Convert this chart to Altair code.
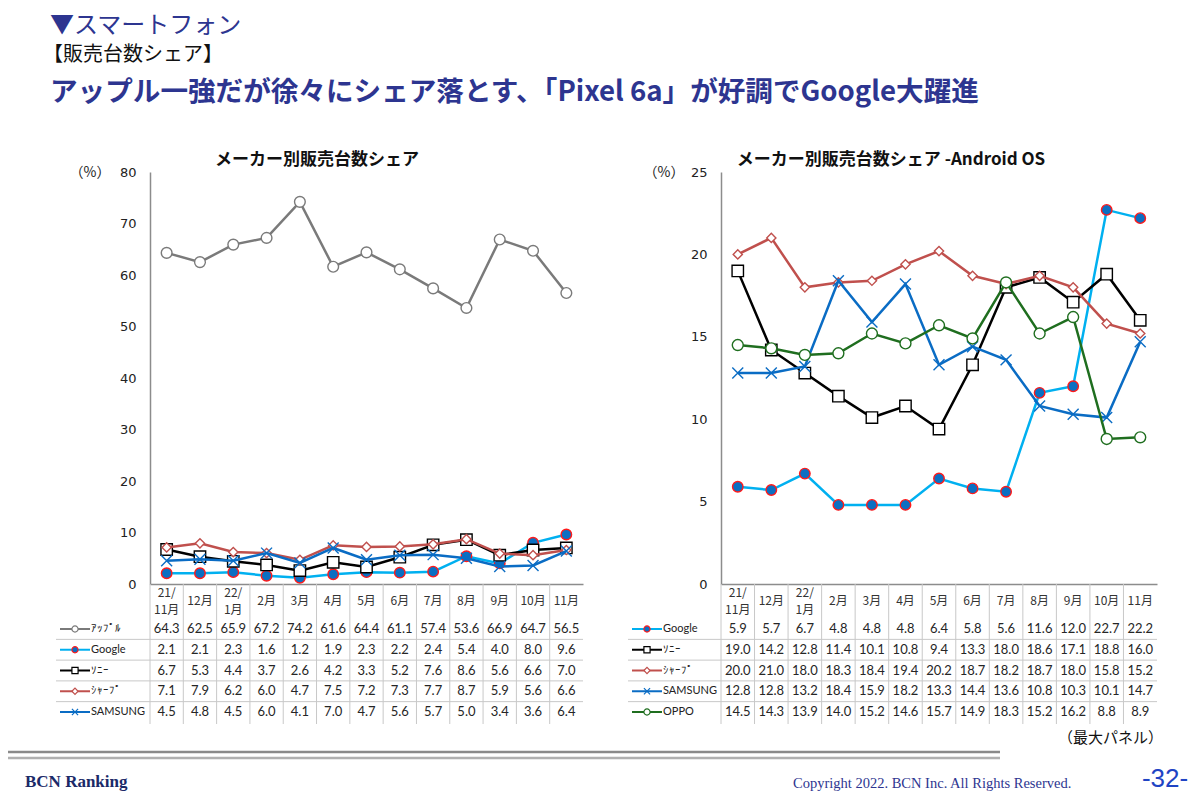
import altair as alt
import pandas as pd

# ---------------- data ----------------
months = ["21/11月", "12月", "22/1月", "2月", "3月", "4月", "5月", "6月", "7月", "8月", "9月", "10月", "11月"]
month_labels = ["21/\n11月", "12月", "22/\n1月", "2月", "3月", "4月", "5月", "6月", "7月", "8月", "9月", "10月", "11月"]

left_series = ["ｱｯﾌﾟﾙ", "Google", "ｿﾆｰ", "ｼｬｰﾌﾟ", "SAMSUNG"]
left_apple = [64.3, 62.5, 65.9, 67.2, 74.2, 61.6, 64.4, 61.1, 57.4, 53.6, 66.9, 64.7, 56.5]
left_google = [2.1, 2.1, 2.3, 1.6, 1.2, 1.9, 2.3, 2.2, 2.4, 5.4, 4.0, 8.0, 9.6]
left_sony = [6.7, 5.3, 4.4, 3.7, 2.6, 4.2, 3.3, 5.2, 7.6, 8.6, 5.6, 6.6, 7.0]
left_sharp = [7.1, 7.9, 6.2, 6.0, 4.7, 7.5, 7.2, 7.3, 7.7, 8.7, 5.9, 5.6, 6.6]
left_samsung = [4.5, 4.8, 4.5, 6.0, 4.1, 7.0, 4.7, 5.6, 5.7, 5.0, 3.4, 3.6, 6.4]

right_series = ["Google", "ｿﾆｰ", "ｼｬｰﾌﾟ", "SAMSUNG", "OPPO"]
right_google = [5.9, 5.7, 6.7, 4.8, 4.8, 4.8, 6.4, 5.8, 5.6, 11.6, 12.0, 22.7, 22.2]
right_sony = [19.0, 14.2, 12.8, 11.4, 10.1, 10.8, 9.4, 13.3, 18.0, 18.6, 17.1, 18.8, 16.0]
right_sharp = [20.0, 21.0, 18.0, 18.3, 18.4, 19.4, 20.2, 18.7, 18.2, 18.7, 18.0, 15.8, 15.2]
right_samsung = [12.8, 12.8, 13.2, 18.4, 15.9, 18.2, 13.3, 14.4, 13.6, 10.8, 10.3, 10.1, 14.7]
right_oppo = [14.5, 14.3, 13.9, 14.0, 15.2, 14.6, 15.7, 14.9, 18.3, 15.2, 16.2, 8.8, 8.9]

# ---------------- style ----------------
W, H = 1184, 785
PLOT_TOP, PLOT_BOTTOM = 164, 576
ROW_TOP, ROW_BOTTOM = 610.6, 714.4
TABLE_BOTTOM = 716
HEADER_Y = 593
JP = "Noto Sans CJK JP"
NAVY = "#2d3590"
GRIDC = "#c8c8c8"
AXISC = "#8c8c8c"

STYLE = {
    "ｱｯﾌﾟﾙ": dict(line="#7a7a7a", fill="#ffffff", stroke="#7a7a7a", shape="circle", size=115),
    "Google": dict(line="#00b0f0", fill="#0b6fc2", stroke="#ff1a1a", shape="circle", size=110),
    "ｿﾆｰ": dict(line="#000000", fill="#ffffff", stroke="#000000", shape="square", size=130),
    "ｼｬｰﾌﾟ": dict(line="#c0504d", fill="#ffffff", stroke="#c0504d", shape="diamond", size=85),
    "SAMSUNG": dict(line="#0a6cc4", fill="transparent", stroke="#0a6cc4", shape="M-1,-1L1,1M-1,1L1,-1", size=120),
    "OPPO": dict(line="#1f6e1f", fill="#ffffff", stroke="#1f6e1f", shape="circle", size=120),
}


def long_df(series, cols):
    return pd.DataFrame(
        [{"month": m, "series": s, "value": v} for s, col in zip(series, cols) for m, v in zip(months, col)]
    )


def panel(series, cols, ymax, ystep, x0, x1, leg0):
    df = long_df(series, cols)
    mdf = pd.DataFrame({"month": months, "label": month_labels})
    multi = mdf[mdf.label.str.contains("\n")]
    single = mdf[~mdf.label.str.contains("\n")]
    sdf = pd.DataFrame({"series": series})

    def xs():
        return alt.Scale(type="band", domain=months, range=[x0, x1], paddingInner=0, paddingOuter=0)

    def ys():
        return alt.Scale(type="linear", domain=[0, ymax], range=[PLOT_BOTTOM, PLOT_TOP], nice=False, zero=False)

    def rs():
        return alt.Scale(type="band", domain=series, range=[ROW_TOP, ROW_BOTTOM], paddingInner=0, paddingOuter=0)

    layers = []
    # table vertical lines
    layers.append(
        alt.Chart(mdf).mark_rule(color=GRIDC, strokeWidth=1).encode(
            x=alt.X("month:N", scale=xs(), bandPosition=0, axis=None),
            y=alt.value(PLOT_BOTTOM),
            y2=alt.value(TABLE_BOTTOM),
        )
    )
    # table horizontal lines
    layers.append(
        alt.Chart(sdf.iloc[1:]).mark_rule(color=GRIDC, strokeWidth=1).encode(
            y=alt.Y("series:N", scale=rs(), bandPosition=0, axis=None),
            x=alt.value(leg0 - 4),
            x2=alt.value(x1),
        )
    )
    # series lines + markers
    first = True
    for s in series:
        st = STYLE[s]
        d = df[df.series == s]
        if first:
            xax = alt.Axis(orient="bottom", offset=PLOT_BOTTOM - H, labels=False, ticks=False, grid=False,
                           domainColor=AXISC, domainWidth=1.5, title=None)
            yax = alt.Axis(orient="left", offset=-x0, values=list(range(0, ymax + 1, ystep)), grid=False,
                           ticks=False, domainColor=AXISC, domainWidth=1.5, labelFont="DejaVu Sans",
                           labelFontSize=13, labelColor="#222222", labelPadding=14, title=None)
            first = False
        else:
            xax = None
            yax = None
        layers.append(
            alt.Chart(d).mark_line(color=st["line"], strokeWidth=2.5).encode(
                x=alt.X("month:N", scale=xs(), axis=xax),
                y=alt.Y("value:Q", scale=ys(), axis=yax),
            )
        )
        layers.append(
            alt.Chart(d).mark_point(shape=st["shape"], size=st["size"], filled=True, fill=st["fill"],
                                    stroke=st["stroke"], strokeWidth=1.4, opacity=1).encode(
                x=alt.X("month:N", scale=xs(), axis=None),
                y=alt.Y("value:Q", scale=ys(), axis=None),
            )
        )
    # table header (month labels)
    layers.append(
        alt.Chart(single).mark_text(font=JP, fontSize=12, color="#333333", baseline="middle").encode(
            x=alt.X("month:N", scale=xs(), axis=None),
            y=alt.value(HEADER_Y),
            text="label:N",
        )
    )
    layers.append(
        alt.Chart(multi).mark_text(font=JP, fontSize=12, color="#333333", lineBreak="\n", baseline="middle",
                                   lineHeight=17).encode(
            x=alt.X("month:N", scale=xs(), axis=None),
            y=alt.value(HEADER_Y - 8.5),
            text="label:N",
        )
    )
    # table values
    layers.append(
        alt.Chart(df).mark_text(font="Lato", fontSize=13, color="#262626", baseline="middle").encode(
            x=alt.X("month:N", scale=xs(), axis=None),
            y=alt.Y("series:N", scale=rs(), axis=None),
            text=alt.Text("value:Q", format=".1f"),
        )
    )
    # legend keys
    for s in series:
        st = STYLE[s]
        d = sdf[sdf.series == s]
        layers.append(
            alt.Chart(d).mark_rule(color=st["line"], strokeWidth=2).encode(
                y=alt.Y("series:N", scale=rs(), axis=None),
                x=alt.value(leg0),
                x2=alt.value(leg0 + 30),
            )
        )
        layers.append(
            alt.Chart(d).mark_point(shape=st["shape"], size=38, filled=True, fill=st["fill"],
                                    stroke=st["stroke"], strokeWidth=1.2, opacity=1).encode(
                y=alt.Y("series:N", scale=rs(), axis=None),
                x=alt.value(leg0 + 15),
            )
        )
    layers.append(
        alt.Chart(sdf).mark_text(font="Lato", fontSize=11, align="left", baseline="middle", color="#222222").encode(
            y=alt.Y("series:N", scale=rs(), axis=None),
            x=alt.value(leg0 + 31),
            text="series:N",
        )
    )
    return layers


def label(text, x, y, **kw):
    return alt.Chart(pd.DataFrame({"t": [text]})).mark_text(baseline="middle", **kw).encode(
        x=alt.value(x), y=alt.value(y), text="t:N"
    )


def hrule(x0, x1, y, color, width):
    return alt.Chart(pd.DataFrame({"a": [0]})).mark_rule(color=color, strokeWidth=width).encode(
        x=alt.value(x0), x2=alt.value(x1), y=alt.value(y)
    )


layers = []
layers += panel(left_series, [left_apple, left_google, left_sony, left_sharp, left_samsung], 80, 10, 142, 575, 52)
layers += panel(right_series, [right_google, right_sony, right_sharp, right_samsung, right_oppo], 25, 5, 713, 1149, 624)

# header texts
layers.append(label("▼スマートフォン", 42, 18, font=JP, fontSize=24, color=NAVY, align="left"))
layers.append(label("【販売台数シェア】", 35, 47, font=JP, fontSize=20, color="#111111", align="left"))
layers.append(label("アップル一強だが徐々にシェア落とす、「Pixel 6a」が好調でGoogle大躍進", 42, 85, font=JP,
                    fontSize=27.6, fontWeight="bold", color=NAVY, align="left"))
# chart titles
layers.append(label("メーカー別販売台数シェア", 309, 152, font=JP, fontSize=17, fontWeight="bold", color="#111111",
                    align="center"))
layers.append(label("メーカー別販売台数シェア -Android OS", 883, 152, font=JP, fontSize=17, fontWeight="bold",
                    color="#111111", align="center"))
layers.append(label("（%）", 82, 165, font=JP, fontSize=14, color="#222222", align="center"))
layers.append(label("（%）", 656, 165, font=JP, fontSize=14, color="#222222", align="center"))
layers.append(label("（最大パネル）", 1155, 730, font=JP, fontSize=15, color="#111111", align="right"))
# footer
layers.append(hrule(0, 992, 744, "#8a8a8a", 2.5))
layers.append(hrule(0, 992, 750, "#b0b0b0", 2.5))
layers.append(label("BCN Ranking", 17, 774, font="Liberation Serif", fontSize=17, fontWeight="bold",
                    color="#1b2a68", align="left"))
layers.append(label("Copyright 2022. BCN Inc. All Rights Reserved.", 785, 776, font="Liberation Serif",
                    fontSize=14.5, color=NAVY, align="left"))
layers.append(label("-32-", 1157, 771, font="Liberation Sans", fontSize=26, color="#1f44c4", align="center"))

chart = (
    alt.layer(*layers)
    .resolve_scale(x="independent", y="independent")
    .properties(width=W, height=H, padding=0, autosize=alt.AutoSizeParams(type="none"))
    .configure_view(stroke=None)
)

chart.save("out.html", embed_options={"renderer": "svg", "actions": False})
